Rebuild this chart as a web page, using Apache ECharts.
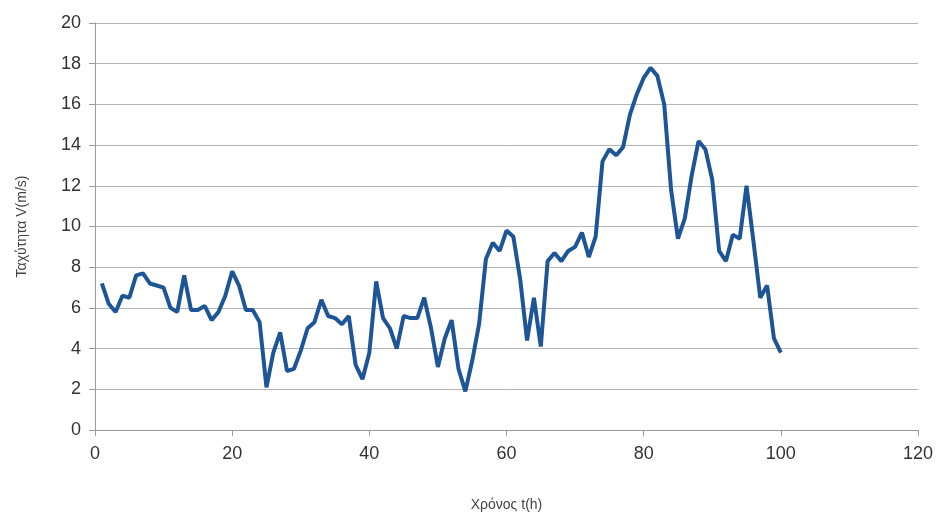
<!DOCTYPE html>
<html>
<head>
<meta charset="utf-8">
<script src="https://cdn.jsdelivr.net/npm/echarts@6/dist/echarts.min.js"></script>
<style>
html,body{margin:0;padding:0;background:#fff;}
#chart{width:936px;height:517px;}
</style>
</head>
<body>
<div id="chart"></div>
<script>
const hours = [];
for (let i = 1; i <= 100; i++) hours.push(i);
const speed = [
  7.2, 6.2, 5.8, 6.6, 6.5, 7.6, 7.7, 7.2, 7.1, 7.0,
  6.0, 5.8, 7.6, 5.9, 5.9, 6.1, 5.4, 5.8, 6.6, 7.8,
  7.1, 5.9, 5.9, 5.3, 2.1, 3.8, 4.8, 2.9, 3.0, 3.9,
  5.0, 5.3, 6.4, 5.6, 5.5, 5.2, 5.6, 3.2, 2.5, 3.8,
  7.3, 5.5, 5.0, 4.0, 5.6, 5.5, 5.5, 6.5, 5.0, 3.1,
  4.5, 5.4, 3.0, 1.9, 3.4, 5.2, 8.4, 9.2, 8.8, 9.8,
  9.5, 7.4, 4.4, 6.5, 4.1, 8.3, 8.7, 8.3, 8.8, 9.0,
  9.7, 8.5, 9.5, 13.2, 13.8, 13.5, 13.9, 15.5, 16.5, 17.3,
  17.8, 17.4, 16.0, 11.8, 9.4, 10.4, 12.5, 14.2, 13.8, 12.3,
  8.8, 8.3, 9.6, 9.4, 12.0, 9.3, 6.5, 7.1, 4.5, 3.8
];
const xTitle = 'Χρόνος t(h)';
const yTitle = 'Ταχύτητα V(m/s)';

const fam = '"Liberation Sans Narrow", "Liberation Sans", sans-serif';
const chart = echarts.init(document.getElementById('chart'), null, {renderer: 'canvas'});
chart.setOption({
  animation: false,
  backgroundColor: '#ffffff',
  grid: {left: 95, right: 18, top: 23, bottom: 85, containLabel: false},
  xAxis: {
    type: 'value', min: 0, max: 120, interval: 20,
    name: xTitle, nameLocation: 'middle', nameGap: 68,
    nameTextStyle: {fontFamily: fam, fontSize: 14, color: '#444'},
    axisLine: {show: true, lineStyle: {color: '#9a9a9a', width: 1}},
    axisTick: {show: true, length: 6, lineStyle: {color: '#9a9a9a'}},
    axisLabel: {fontFamily: fam, fontSize: 18, color: '#333', margin: 15},
    splitLine: {show: false}
  },
  yAxis: {
    type: 'value', min: 0, max: 20, interval: 2,
    name: yTitle, nameLocation: 'middle', nameGap: 66, nameRotate: 90,
    nameTextStyle: {fontFamily: fam, fontSize: 14, color: '#444'},
    axisLine: {show: true, lineStyle: {color: '#9a9a9a', width: 1}},
    axisTick: {show: true, length: 6, lineStyle: {color: '#9a9a9a'}},
    axisLabel: {fontFamily: fam, fontSize: 18, color: '#333', margin: 14},
    splitLine: {show: true, lineStyle: {color: '#b4b4b4', width: 1}}
  },
  series: [{
    type: 'line',
    data: hours.map((h, i) => [h, speed[i]]),
    showSymbol: false,
    lineStyle: {color: '#1d5596', width: 4},
    itemStyle: {color: '#1d5596'}
  }]
});
</script>
</body>
</html>
